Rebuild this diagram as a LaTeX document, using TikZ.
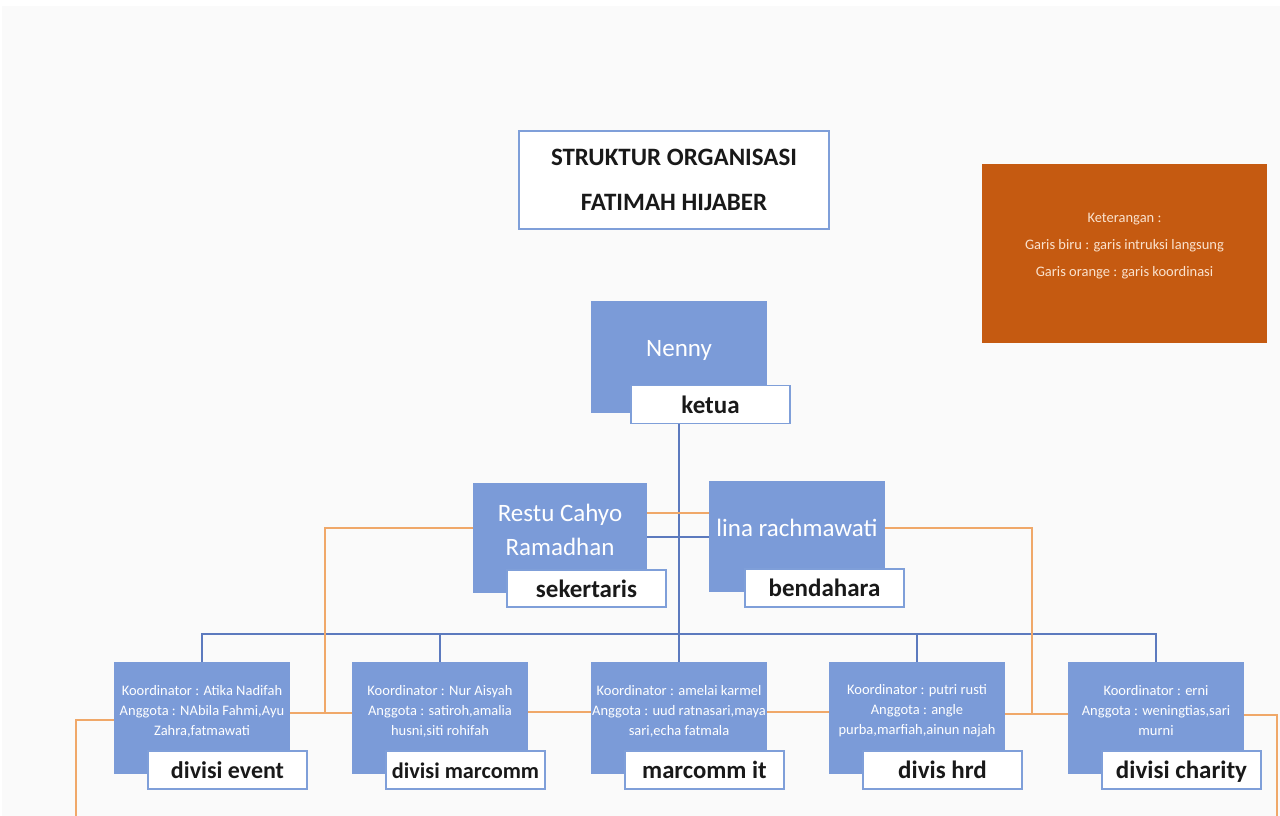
\documentclass[tikz,border=0pt]{standalone}
\usepackage{fontspec}
\setmainfont{Carlito}
\usetikzlibrary{positioning,calc}
\definecolor{kotakbiru}{RGB}{123,155,216}
\definecolor{garisbiru}{RGB}{92,122,190}
\definecolor{garisoranye}{RGB}{240,168,105}
\definecolor{tepi}{RGB}{127,159,217}
\definecolor{ket}{RGB}{197,90,17}
\definecolor{kettext}{RGB}{250,226,206}
\definecolor{latar}{RGB}{250,250,250}
\definecolor{hitam}{RGB}{25,25,25}

\begin{document}
\begin{tikzpicture}[x=1pt,y=-1pt,
  kotak/.style={fill=kotakbiru,minimum width=176pt,inner sep=0pt},
  isi/.style={text=white,align=center,font=\fontsize{14.5}{20}\selectfont,inner sep=0pt},
  nama/.style={text=white,align=center,font=\fontsize{25}{34}\selectfont,inner sep=0pt},
  lbl/.style={draw=tepi,line width=1.3pt,fill=white,minimum width=159pt,minimum height=38pt,inner sep=0pt,text height=20pt,text depth=3pt,text=hitam,font=\bfseries\fontsize{25}{30}\selectfont},
  biru/.style={draw=garisbiru,line width=1.8pt},
  oranye/.style={draw=garisoranye,line width=1.2pt}]
  \fill[white] (0,0) rectangle (1280,816);
  \fill[latar] (2,6) rectangle (1280,816);
  \useasboundingbox (0,0) rectangle (1280,816);
  % judul dan keterangan
  \node[draw=tepi,line width=1.3pt,fill=white,minimum width=310pt,minimum height=98pt,align=center,text=hitam,font=\bfseries\fontsize{25}{45}\selectfont] (judul) at (674,180) {STRUKTUR ORGANISASI\\FATIMAH HIJABER};
  \node[fill=ket,minimum width=285pt,minimum height=179pt] (keterangan) at (1124.5,253.5) {};
  \node[text=kettext,align=center,font=\fontsize{14.5}{27}\selectfont,inner sep=0pt] (keteranganT) at ([yshift=7pt]keterangan.center) {Keterangan :\\Garis biru : garis intruksi langsung\\Garis orange : garis koordinasi};
  % pengurus inti
  \node[kotak,minimum height=112pt] (ketua) at (679,357) {};
  \node[nama] (ketuaT) at ([yshift=7pt]ketua.center) {Nenny};
  \node[lbl] (ketuaL) at (710.5,404.5) {ketua};
  \node[kotak,minimum width=174pt,minimum height=110pt] (sek) at (560,538) {};
  \node[nama] (sekT) at ([yshift=8pt]sek.center) {Restu Cahyo\\Ramadhan};
  \node[lbl,minimum height=37pt] (sekL) at (586.5,588.5) {sekertaris};
  \node[kotak,minimum height=111pt] (bend) at (797,536.5) {};
  \node[nama] (bendT) at ([yshift=8.5pt]bend.center) {lina rachmawati};
  \node[lbl] (bendL) at (824.5,588) {bendahara};
  % divisi
  \foreach \nm/\x/\teks/\lbl/\uk in {ev/202/{Koordinator : Atika Nadifah\\Anggota : NAbila Fahmi,Ayu\\Zahra,fatmawati}/divisi event/24,
      mc/440/{Koordinator : Nur Aisyah\\Anggota : satiroh,amalia\\husni,siti rohifah}/divisi marcomm/22.3,
      mcit/679/{Koordinator : amelai karmel\\Anggota : uud ratnasari,maya\\sari,echa fatmala}/marcomm it/24.7,
      hrd/917/{Koordinator : putri rusti\\Anggota : angle\\purba,marfiah,ainun najah}/divis hrd/25,
      chr/1156/{Koordinator : erni\\Anggota : weningtias,sari\\murni}/divisi charity/25} {
    \node[kotak,minimum height=112pt] (\nm) at (\x,718) {};
    \node[isi] (\nm t) at ([yshift=7pt]\nm.center) {\teks};
    \node[lbl,font=\bfseries\fontsize{\uk}{30}\selectfont] (\nm l) at ({\x+25.5},770) {\lbl};
  }
  % garis biru: instruksi langsung
  \coordinate (bus) at (679,634);
  \draw[biru] (ketua.south |- ketuaL.south) -- (mcit.north);
  \draw[biru] (ev.north) |- (bus) -| (chr.north);
  \draw[biru] (mc.north) -- (mc.north |- bus);
  \draw[biru] (hrd.north) -- (hrd.north |- bus);
  \draw[biru] (sek.east |- 0,537) -- (bend.west |- 0,537);
  % garis oranye: koordinasi
  \coordinate (oL) at (325,713);
  \coordinate (oR) at (1032,714);
  \coordinate (oBL) at (76,816);
  \coordinate (oBR) at (1277,816);
  \draw[oranye] (sek.east |- 0,513) -- (bend.west |- 0,513);
  \draw[oranye] (sek.west |- 0,528) -| (oL);
  \draw[oranye] (bend.east |- 0,528) -| (oR);
  \draw[oranye] (ev.east |- oL) -- (mc.west |- oL);
  \draw[oranye] (mc.east |- 0,712) -- (mcit.west |- 0,712);
  \draw[oranye] (mcit.east |- 0,712) -- (hrd.west |- 0,712);
  \draw[oranye] (hrd.east |- oR) -- (chr.west |- oR);
  \draw[oranye] (ev.west |- 0,720) -| (oBL);
  \draw[oranye] (chr.east |- 0,715) -| (oBR);
\end{tikzpicture}
\end{document}
